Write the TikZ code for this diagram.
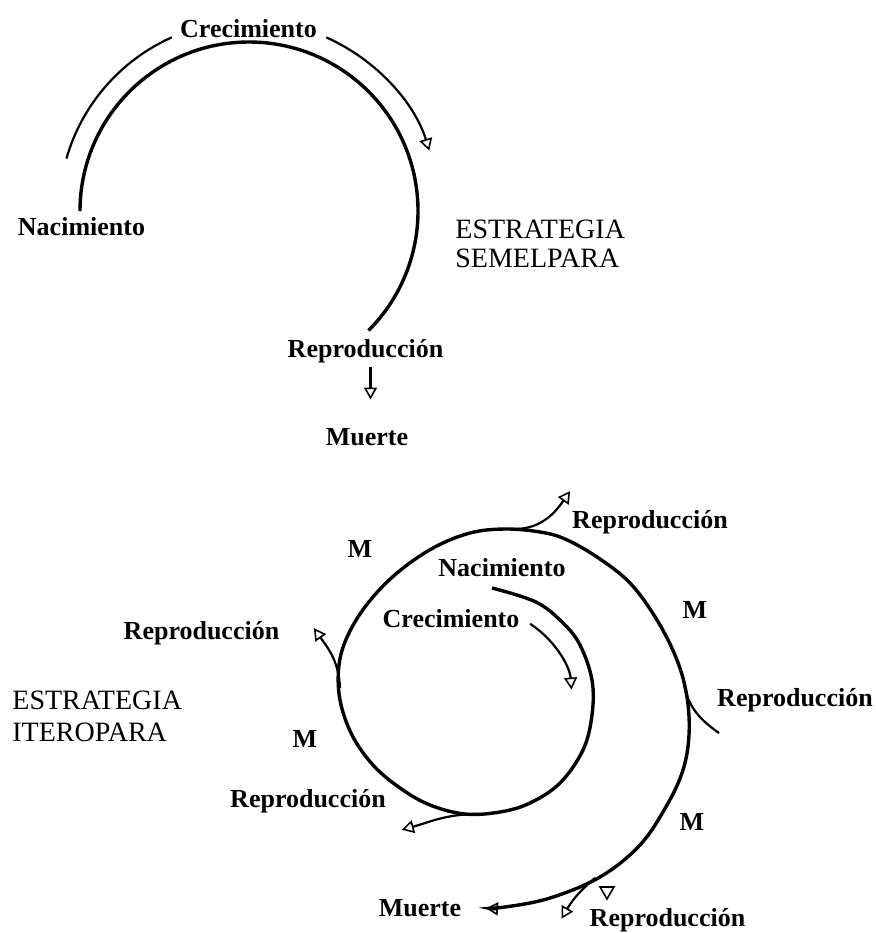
\documentclass[tikz,border=0pt]{standalone}
\usepackage{fontspec}
\setmainfont{Liberation Serif}
\usetikzlibrary{arrows.meta,shapes.geometric}

\begin{document}
\begin{tikzpicture}[x=0.5pt,y=0.5pt]
    \tikzstyle{lifeline}=[line width=1.7pt]
    \tikzstyle{thinline}=[line width=1.1pt]
    \tikzstyle{tri}=[-{Triangle[open,length=6pt,width=6.5pt,line width=0.8pt,sep=2.5pt]}]
    \tikzstyle{lbl}=[inner sep=0pt,anchor=base,font=\fontsize{13}{15}\selectfont\bfseries]
    \tikzstyle{strat}=[inner sep=0pt,anchor=west,align=left]
    \tikzstyle{opentri}=[draw,regular polygon,regular polygon sides=3,shape border rotate=180,inner sep=0pt,minimum size=8pt,line width=0.8pt]

    \useasboundingbox (0,0) rectangle (875,-933);

    % semelpara
    \node (crec1) at (248.5,-37) [lbl] {Crecimiento};
    \node (nac1) at (81.5,-235) [lbl] {Nacimiento};
    \node (rep1) at (365.5,-357) [lbl] {Reproducción};
    \node (mue1) at (367,-445) [lbl] {Muerte};
    \node (sem) at (455,-244) [strat,font=\fontsize{14}{14.25}\selectfont] {ESTRATEGIA\\SEMELPARA};

    \draw [lifeline] (80,-211) arc [start angle=180,end angle=-45,radius=169];
    \draw [thinline] (66.4,-158.6) arc [start angle=164,end angle=114,radius=190];
    \draw [thinline,tri] (326.3,-37.4) arc [start angle=66,end angle=17,radius=190];
    \draw [thinline,tri,shorten <=2pt,shorten >=11.5pt] ([xshift=2.5pt]rep1.south) -- ([xshift=2.5pt]rep1.south |- mue1.north);

    % iteropara
    \node (itero) at (12,-716.5) [strat,font=\fontsize{14}{16.25}\selectfont] {ESTRATEGIA\\ITEROPARA};
    \node (nac2) at (502,-576) [lbl] {Nacimiento};
    \node (crec2) at (451,-627) [lbl] {Crecimiento};
    \node (rep2) at (201.5,-639) [lbl] {Reproducción};
    \node (rep3) at (308,-807) [lbl] {Reproducción};
    \node (rep4) at (667.5,-926) [lbl] {Reproducción};
    \node (rep5) at (795,-706) [lbl] {Reproducción};
    \node (rep6) at (650,-528) [lbl] {Reproducción};
    \node (mue2) at (420,-916) [lbl] {Muerte};
    \node (m1) at (360,-557) [lbl] {M};
    \node (m2) at (305,-747) [lbl] {M};
    \node (m3) at (692,-830) [lbl] {M};
    \node (m4) at (695,-618) [lbl] {M};

    \draw [lifeline,tri] plot [smooth,tension=0.6] coordinates {
        (492,-588) (536,-602) (563,-623) (580,-645) (592,-680) (592,-715)
        (583,-750) (560,-783) (530,-803) (500,-812) (465,-814) (430,-805)
        (400,-788) (373,-765) (352,-735) (340,-700) (339,-665) (348,-635)
        (368,-603) (397,-573) (433,-548) (470,-533) (505,-529) (540,-532)
        (565,-539) (597,-557) (630,-583) (657,-620) (677,-660) (687,-697)
        (689,-735) (683,-770) (667,-805) (640,-845) (600,-877) (550,-898)
        (505,-907) (481,-908)};
    \draw [thinline,tri] (530.1,-623.8) arc [start angle=57,end angle=4,radius=92];

    \coordinate (j1) at (515,-529);  \coordinate (t1) at (573,-487);
    \coordinate (j2) at (340,-688);  \coordinate (t2) at (311,-624);
    \coordinate (j3) at (684,-685);  \coordinate (e3) at (719,-733);
    \coordinate (j4) at (478,-814);  \coordinate (t4) at (397,-831);
    \coordinate (j5) at (595,-878);  \coordinate (t5) at (559,-923);
    \node (t6) at (607,-891) [opentri] {};

    \draw [thinline,tri] (j1) to [out=0,in=-125] (t1);
    \draw [thinline,tri] (j2) to [out=92,in=-55] (t2);
    \draw [thinline] (j3) to [out=-78,in=145] (e3);
    \draw [thinline,tri] (j4) to [out=180,in=15] (t4);
    \draw [thinline,tri] (j5) to [out=-140,in=60] (t5);
\end{tikzpicture}
\end{document}
